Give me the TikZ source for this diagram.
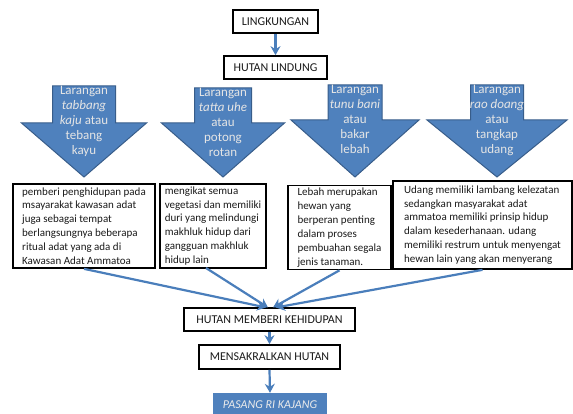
\documentclass[tikz,border=0pt]{standalone}
\usepackage{fontspec}
\setmainfont{Carlito}
\usetikzlibrary{arrows.meta}
\definecolor{arrowblue}{HTML}{4F81BD}
\definecolor{arrowedge}{HTML}{385D8A}
\definecolor{linkblue}{HTML}{4A7EBB}
\definecolor{inktext}{HTML}{1A1A1A}
\newcommand{\blockarrowshape}[6]{%
  \draw[blockarrow] (#1-#3,#2) -- (#1+#3,#2) -- (#1+#3,#5) -- (#1+#4,#5) -- (#1,#6)
    -- (#1-#4,#5) -- (#1-#3,#5) -- cycle;}
\begin{document}
\begin{tikzpicture}[x=1pt,y=-1pt,
  titlebox/.style={draw=black, line width=1.7pt, fill=white, text=inktext,
    font=\fontsize{12}{14}\selectfont, inner sep=0pt, minimum height=23pt},
  textbox/.style={draw=black, line width=1.7pt, fill=white, text=inktext,
    font=\fontsize{11}{13.9}\selectfont, align=left, inner sep=0pt},
  link/.style={draw=linkblue, line width=2.2pt, -{Stealth[length=9pt,width=10pt,inset=3pt]}},
  blockarrow/.style={fill=arrowblue, draw=arrowedge, line width=1pt},
  arrowtext/.style={text=white!90!black, font=\fontsize{13}{15}\selectfont,
    align=center, inner sep=0pt, anchor=north}]
\useasboundingbox (0,0) rectangle (573,414);

% top nodes
\node[titlebox, minimum width=85pt] (lk) at (275.5,21.5) {LINGKUNGAN};
\node[titlebox, minimum width=103pt] (hl) at (275.5,67.5) {HUTAN LINDUNG};

% block arrows
\blockarrowshape{84}{86}{31.5}{62.5}{123}{177}
\blockarrowshape{223}{88}{28.5}{61.5}{123}{177}
\blockarrowshape{355}{85}{27}{64}{120}{177}
\blockarrowshape{497}{85}{26.5}{70}{120}{177}

\node[arrowtext] (t1) at (84,86) {Larangan\\\textit{tabbang}\\\textit{kaju} atau\\tebang\\kayu};
\node[arrowtext] (t2) at (223,88) {Larangan\\\textit{tatta uhe}\\atau\\potong\\rotan};
\node[arrowtext] (t3) at (355,85) {Larangan\\\textit{tunu bani}\\atau\\bakar\\lebah};
\node[arrowtext] (t4) at (497,85) {Larangan\\\textit{rao doang}\\atau\\tangkap\\udang};

% text boxes
\node[textbox, minimum width=142pt, minimum height=84pt] (b1) at (84,226)
  {pemberi penghidupan pada\\msayarakat kawasan adat\\juga sebagai tempat\\berlangsungnya beberapa\\ritual adat yang ada di\\Kawasan Adat Ammatoa};
\node[textbox, minimum width=106pt, minimum height=84pt] (b2) at (213,226)
  {mengikat semua\\vegetasi dan memiliki\\duri yang melindungi\\makhluk hidup dari\\gangguan makhluk\\hidup lain};
\node[textbox, minimum width=103pt, minimum height=84pt] (b3) at (339.5,227.5)
  {Lebah merupakan\\hewan yang\\berperan penting\\dalam proses\\pembuahan segala\\jenis tanaman.};
\node[textbox, minimum width=179pt, minimum height=88pt] (b4) at (482.5,225)
  {Udang memiliki lambang kelezatan\\sedangkan masyarakat adat\\ammatoa memiliki prinsip hidup\\dalam kesederhanaan. udang\\memiliki restrum untuk menyengat\\hewan lain yang akan menyerang};

% lower nodes
\node[titlebox, minimum width=171pt] (hmk) at (269.5,319.5) {HUTAN MEMBERI KEHIDUPAN};
\node[titlebox, minimum width=141pt, minimum height=24pt] (ms) at (269.5,357) {MENSAKRALKAN HUTAN};
\node[fill=arrowblue, text=white!92!black, font=\fontsize{12}{14}\selectfont\itshape,
  inner sep=0pt, minimum width=114pt, minimum height=23pt] (pr) at (270,404.5) {PASANG RI KAJANG};

\coordinate (s2) at (206,268);
\coordinate (e1) at (266,307.5);
\coordinate (e2) at (268,307.5);
\coordinate (e3) at (273,307.5);
\coordinate (e4) at (276,307.5);

% connectors
\draw[link] (lk.south) -- (hl.north);
\draw[link] (b1.south) -- (e1);
\draw[link] (s2) -- (e2);
\draw[link] (b3.south) -- (e3);
\draw[link] (b4.south) -- (e4);
\draw[link] (hmk.south) -- (ms.north);
\draw[link] (ms.south) -- (pr.north);
\end{tikzpicture}
\end{document}
